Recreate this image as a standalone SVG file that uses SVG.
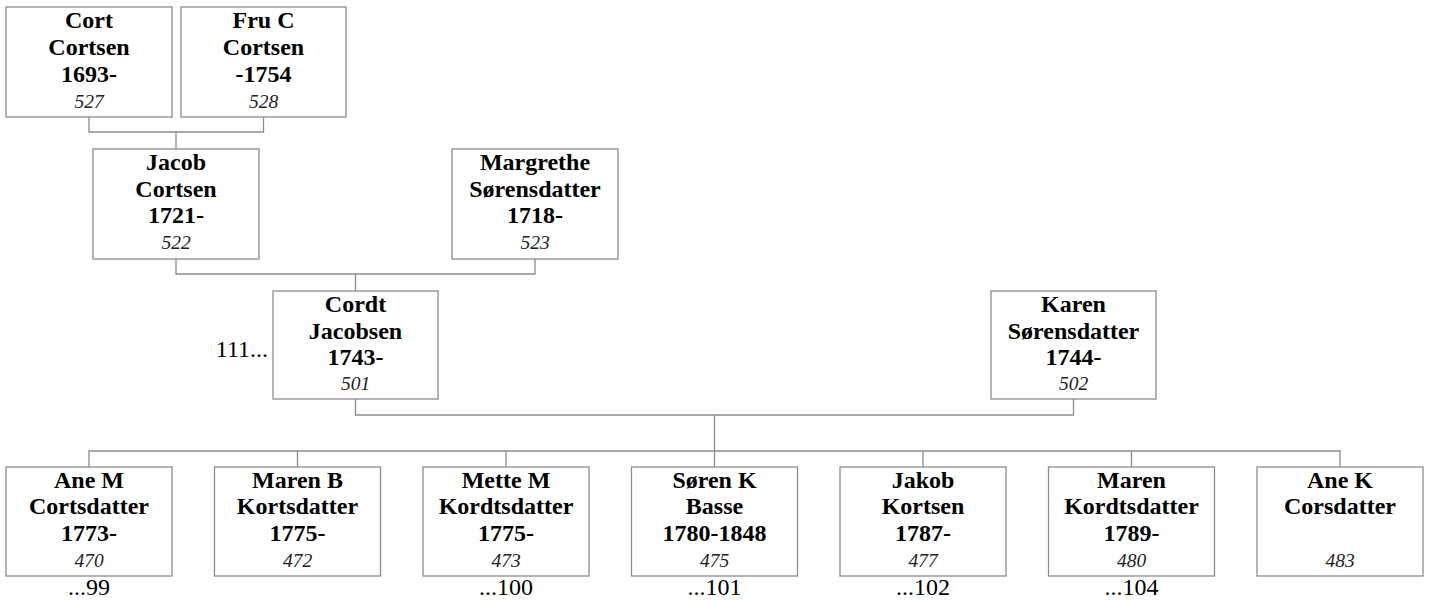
<svg xmlns="http://www.w3.org/2000/svg" width="1429" height="600" viewBox="0 0 1429 600">
<style>
.box{fill:#fff;stroke:#8c8c8c;stroke-width:1.3}
.ln{fill:none;stroke:#8c8c8c;stroke-width:1.3}
.n{font-family:"Liberation Serif","Times New Roman",serif;font-weight:bold;font-size:24px;text-anchor:middle;fill:#000}
.i{font-family:"Liberation Serif","Times New Roman",serif;font-style:italic;font-size:19.5px;text-anchor:middle;fill:#222}
.r{font-family:"Liberation Serif","Times New Roman",serif;font-size:24px;text-anchor:middle;fill:#000}
</style>
<rect width="1429" height="600" fill="#fff"/>
<g id="connectors">
<path class="ln" d="M89 117V132H263.5V117M176 132V149"/>
<path class="ln" d="M176 259V274H535V259M355.5 274V291"/>
<path class="ln" d="M355.5 399V415H1073.5V399M714.5 415V451"/>
<path class="ln" d="M89 467V451H1340V467M297.5 451V467M506 451V467M714.5 451V467M923 451V467M1131.5 451V467"/>
</g>
<g id="p527"><rect class="box" x="6" y="7" width="166" height="110"/>
<text class="n" x="89" y="28">Cort</text><text class="n" x="89" y="55">Cortsen</text><text class="n" x="89" y="82">1693-</text><text class="i" x="89" y="108">527</text></g>
<g id="p528"><rect class="box" x="181" y="7" width="165" height="110"/>
<text class="n" x="263.5" y="28">Fru C</text><text class="n" x="263.5" y="55">Cortsen</text><text class="n" x="263.5" y="82">-1754</text><text class="i" x="263.5" y="108">528</text></g>
<g id="p522"><rect class="box" x="93" y="149" width="166" height="110"/>
<text class="n" x="176" y="170">Jacob</text><text class="n" x="176" y="196.5">Cortsen</text><text class="n" x="176" y="223">1721-</text><text class="i" x="176" y="249">522</text></g>
<g id="p523"><rect class="box" x="452" y="149" width="166" height="110"/>
<text class="n" x="535" y="170">Margrethe</text><text class="n" x="535" y="196.5">Sørensdatter</text><text class="n" x="535" y="223">1718-</text><text class="i" x="535" y="249">523</text></g>
<g id="p501"><rect class="box" x="273" y="291" width="165" height="108"/>
<text class="n" x="355.5" y="312">Cordt</text><text class="n" x="355.5" y="338.5">Jacobsen</text><text class="n" x="355.5" y="364.5">1743-</text><text class="i" x="355.5" y="390">501</text>
<text class="r" x="268" y="357" style="text-anchor:end">111...</text></g>
<g id="p502"><rect class="box" x="991" y="291" width="165" height="108"/>
<text class="n" x="1073.5" y="312">Karen</text><text class="n" x="1073.5" y="338.5">Sørensdatter</text><text class="n" x="1073.5" y="364.5">1744-</text><text class="i" x="1073.5" y="390">502</text></g>
<g id="p470"><rect class="box" x="6" y="467" width="166" height="109"/>
<text class="n" x="89" y="487.5">Ane M</text><text class="n" x="89" y="514">Cortsdatter</text><text class="n" x="89" y="540.5">1773-</text><text class="i" x="89" y="566.5">470</text><text class="r" x="89" y="595">...99</text></g>
<g id="p472"><rect class="box" x="214.5" y="467" width="166" height="109"/>
<text class="n" x="297.5" y="487.5">Maren B</text><text class="n" x="297.5" y="514">Kortsdatter</text><text class="n" x="297.5" y="540.5">1775-</text><text class="i" x="297.5" y="566.5">472</text></g>
<g id="p473"><rect class="box" x="423" y="467" width="166" height="109"/>
<text class="n" x="506" y="487.5">Mette M</text><text class="n" x="506" y="514">Kordtsdatter</text><text class="n" x="506" y="540.5">1775-</text><text class="i" x="506" y="566.5">473</text><text class="r" x="506" y="595">...100</text></g>
<g id="p475"><rect class="box" x="631.5" y="467" width="166" height="109"/>
<text class="n" x="714.5" y="487.5">Søren K</text><text class="n" x="714.5" y="514">Basse</text><text class="n" x="714.5" y="540.5">1780-1848</text><text class="i" x="714.5" y="566.5">475</text><text class="r" x="714.5" y="595">...101</text></g>
<g id="p477"><rect class="box" x="840" y="467" width="166" height="109"/>
<text class="n" x="923" y="487.5">Jakob</text><text class="n" x="923" y="514">Kortsen</text><text class="n" x="923" y="540.5">1787-</text><text class="i" x="923" y="566.5">477</text><text class="r" x="923" y="595">...102</text></g>
<g id="p480"><rect class="box" x="1048.5" y="467" width="166" height="109"/>
<text class="n" x="1131.5" y="487.5">Maren</text><text class="n" x="1131.5" y="514">Kordtsdatter</text><text class="n" x="1131.5" y="540.5">1789-</text><text class="i" x="1131.5" y="566.5">480</text><text class="r" x="1131.5" y="595">...104</text></g>
<g id="p483"><rect class="box" x="1257" y="467" width="166" height="109"/>
<text class="n" x="1340" y="487.5">Ane K</text><text class="n" x="1340" y="514">Corsdatter</text><text class="i" x="1340" y="566.5">483</text></g>
</svg>
